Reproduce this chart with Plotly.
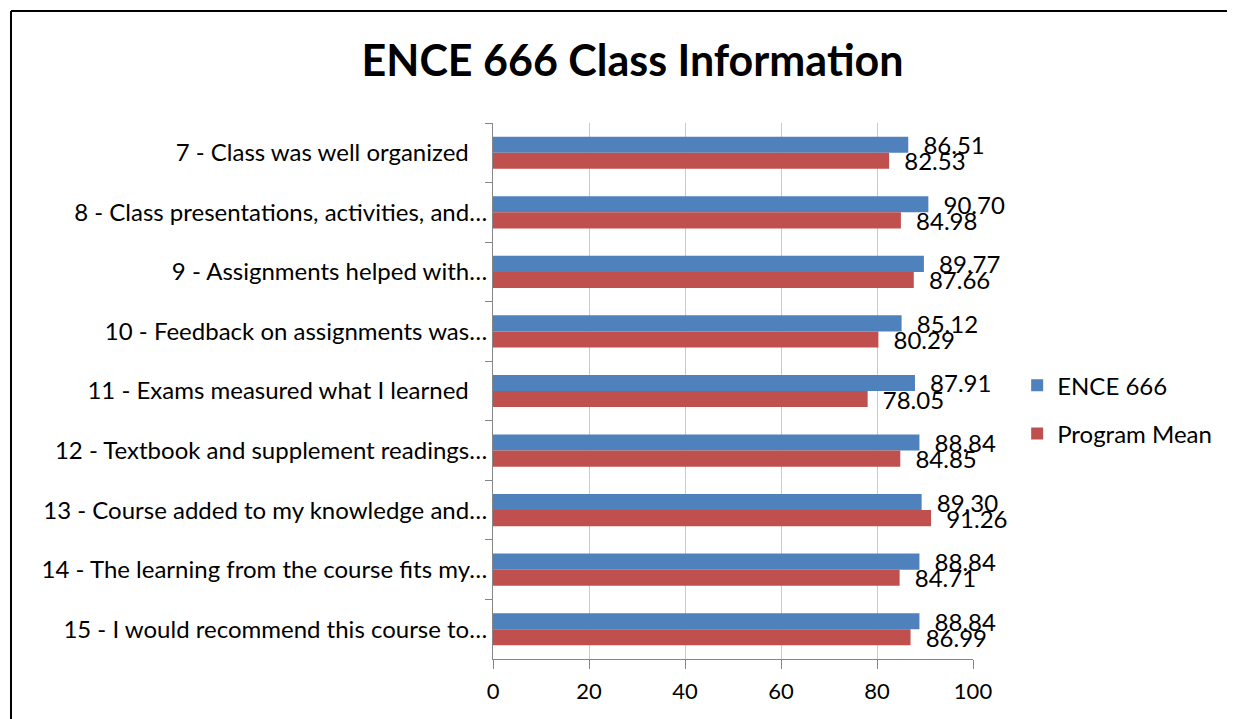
"""
ENCE 666 class survey results vs. program mean.
"""

import plotly.graph_objects as go

categories = [
    "7 - Class was well organized\u00a0\u00a0\u00a0",
    "8 - Class presentations, activities, and…",
    "9 - Assignments helped with…",
    "10 - Feedback on assignments was…",
    "11 - Exams measured what I learned\u00a0\u00a0\u00a0",
    "12 - Textbook and supplement readings…",
    "13 - Course added to my knowledge and…",
    "14 - The learning from the course fits my…",
    "15 - I would recommend this course to…",
]
ence_666 = [86.51, 90.70, 89.77, 85.12, 87.91, 88.84, 89.30, 88.84, 88.84]
program_mean = [82.53, 84.98, 87.66, 80.29, 78.05, 84.85, 91.26, 84.71, 86.99]
x_ticks = [0, 20, 40, 60, 80, 100]

FONT = "Lato"

fig = go.Figure()

series = [("ENCE 666", ence_666, "#4F81BD"), ("Program Mean", program_mean, "#C0504D")]
for name, values, color in series:
    fig.add_trace(
        go.Bar(
            y=categories,
            x=values,
            name=name,
            legendgroup=name,
            orientation="h",
            marker=dict(color=color, line=dict(width=0)),
            text=values,
            texttemplate="\u00a0\u2009\u2009%{x:.2f}",
            textposition="outside",
            constraintext="none",
            cliponaxis=False,
            textfont=dict(family=FONT, size=24, color="black"),
        )
    )

# page has an ~8px body offset, so the plot box is placed at 485/115
left, top = 485, 115
pw, ph = 480, 536
W, H = 1227, 711

# outer chart border (left and top edges visible)
x_left = (3 - left) / pw
x_right = (W + 20 - left) / pw
y_top = (top + ph - 3) / ph
y_bot = (top + ph - H - 20) / ph
for x0, y0, x1, y1 in [(x_left, y_top, x_right, y_top), (x_left, y_top, x_left, y_bot)]:
    fig.add_shape(
        type="line", xref="paper", yref="paper",
        x0=x0, y0=y0, x1=x1, y1=y1,
        line=dict(color="black", width=2),
    )

fig.update_layout(
    width=W,
    height=H,
    margin=dict(l=left, r=W - left - pw, t=top, b=H - top - ph),
    paper_bgcolor="white",
    plot_bgcolor="white",
    barmode="group",
    bargap=0.46,
    bargroupgap=0,
    font=dict(family=FONT, size=24, color="black"),
    title=dict(
        text="<b>ENCE 666 Class Information</b>",
        x=0.509, xanchor="center",
        y=0.925, yanchor="middle",
        font=dict(family=FONT, size=43, color="black"),
    ),
    legend=dict(
        x=1.092, xanchor="left",
        y=0.465, yanchor="middle",
        font=dict(family=FONT, size=24, color="black"),
        tracegroupgap=14,
        traceorder="grouped",
        itemwidth=30,
    ),
    xaxis=dict(
        range=[0, 100],
        tickvals=x_ticks,
        showgrid=True,
        gridcolor="#B9CDE5",
        gridwidth=1,
        showline=True,
        linecolor="#868686",
        linewidth=1,
        ticks="outside",
        ticklen=9,
        tickcolor="#868686",
        ticklabelstandoff=4,
        tickfont=dict(family=FONT, size=22, color="black"),
        zeroline=False,
    ),
    yaxis=dict(
        autorange="reversed",
        showline=True,
        linecolor="#868686",
        linewidth=1,
        ticks="outside",
        tickson="boundaries",
        ticklen=7,
        tickcolor="#868686",
        tickfont=dict(family=FONT, size=24, color="black"),
        showgrid=False,
    ),
)

fig.write_html("out.html")
